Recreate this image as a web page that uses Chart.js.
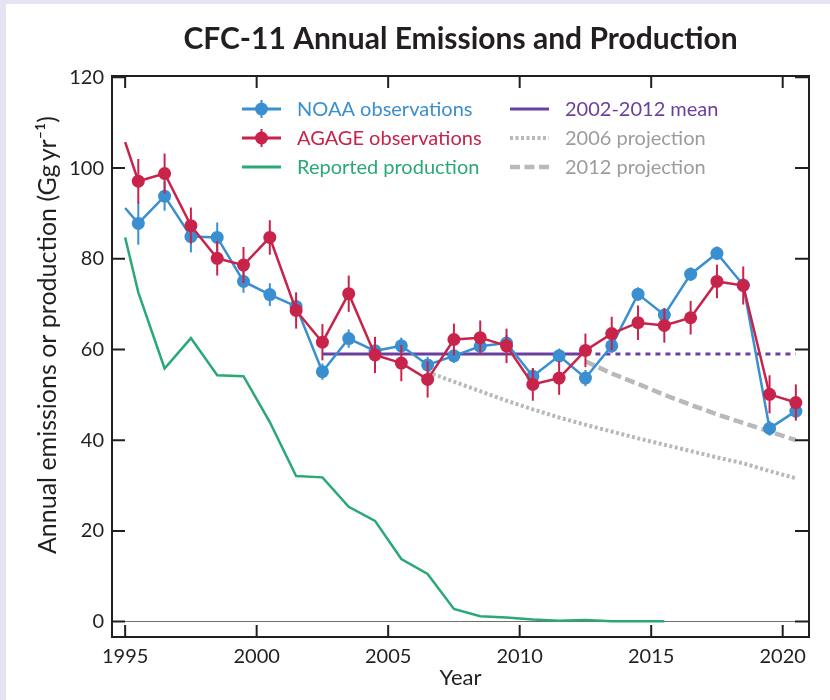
<!DOCTYPE html>
<html><head><meta charset="utf-8">
<script src="https://cdn.jsdelivr.net/npm/chart.js@4"></script>
<style>html,body{margin:0;padding:0;background:#fff;}canvas{display:block;}</style>
</head><body>
<canvas id="c" width="830" height="700"></canvas>
<script>
// ---- data ----
const obsYears = [1995, 1995.5, 1996.5, 1997.5, 1998.5, 1999.5, 2000.5, 2001.5, 2002.5, 2003.5, 2004.5, 2005.5, 2006.5, 2007.5, 2008.5, 2009.5, 2010.5, 2011.5, 2012.5, 2013.5, 2014.5, 2015.5, 2016.5, 2017.5, 2018.5, 2019.5, 2020.5];
const noaa = [91.2, 87.8, 93.8, 84.9, 84.7, 75.0, 72.1, 69.5, 55.1, 62.4, 59.7, 60.8, 56.6, 58.6, 60.7, 61.4, 54.1, 58.6, 53.7, 60.8, 72.2, 67.6, 76.6, 81.2, 74.2, 42.6, 46.4];
const noaaErr = [null, 4.7, 3.2, 3.5, 3.3, 2.5, 2.5, 2.0, 1.8, 2.0, 1.8, 1.8, 1.8, 1.6, 1.8, 1.8, 1.8, 1.6, 1.8, 1.6, 1.5, 1.5, 1.5, 1.5, 1.5, 1.6, 1.7];
const agage = [105.7, 97.1, 98.8, 87.3, 80.1, 78.6, 84.7, 68.6, 61.6, 72.3, 58.8, 57.0, 53.4, 62.2, 62.6, 60.8, 52.3, 53.7, 59.8, 63.5, 65.9, 65.3, 67.0, 75.0, 74.1, 50.1, 48.3];
const agageErr = [null, 4.9, 4.4, 4.0, 3.8, 4.0, 3.8, 4.0, 4.0, 4.0, 4.0, 4.0, 4.0, 3.5, 3.8, 3.8, 3.6, 3.7, 3.7, 3.7, 3.8, 3.8, 3.7, 3.7, 4.2, 4.2, 4.0];
const prodYears = [1995, 1995.5, 1996.5, 1997.5, 1998.5, 1999.5, 2000.5, 2001.5, 2002.5, 2003.5, 2004.5, 2005.5, 2006.5, 2007.5, 2008.5, 2009.5, 2010.5, 2011.5, 2012.5, 2013.5, 2014.5, 2015.5];
const production = [84.7, 72.6, 55.8, 62.5, 54.3, 54.1, 44.0, 32.1, 31.8, 25.3, 22.2, 13.8, 10.5, 2.8, 1.2, 0.9, 0.45, 0.2, 0.35, 0.1, 0.1, 0.1];
const meanYears = [2002.5, 2012.5, 2020.5];
const meanValues = [59.0, 59.0, 59.0];
const proj2006Years = [2006.5, 2007.5, 2008.5, 2009.5, 2010.5, 2011.5, 2012.5, 2013.5, 2014.5, 2015.5, 2016.5, 2017.5, 2018.5, 2019.5, 2020.5];
const proj2006 = [55.0, 52.9, 50.8, 48.7, 46.8, 45.0, 43.4, 41.9, 40.4, 39.0, 37.6, 36.2, 34.9, 33.2, 31.6];
const proj2012Years = [2012.5, 2013.5, 2014.5, 2015.5, 2016.5, 2017.5, 2018.5, 2019.5, 2020.5];
const proj2012 = [57.4, 54.7, 52.4, 50.0, 47.8, 45.7, 43.8, 41.9, 40.0];
const xTicks = [1995, 2000, 2005, 2010, 2015, 2020];
const yTicks = [0, 20, 40, 60, 80, 100, 120];
const titleText = 'CFC-11 Annual Emissions and Production';
const yTitle = 'Annual emissions or production (Gg\u2009yr\u207B\u00B9)';
const xTitle = 'Year';

// ---- styles ----
const C = {blue:'#3a8fd1', red:'#c8234b', green:'#2aa876', purple:'#6b3fa0', gray:'#b9b9b9', grayText:'#9c9c9c', ink:'#231f20'};
const FONT = 'Lato, "Open Sans", sans-serif';
Chart.defaults.font.family = FONT;
Chart.defaults.color = C.ink;

const pts = (xs, ys) => ys.map((v, i) => ({x: xs[i], y: v}));

const bgPlugin = {
  id: 'bg',
  beforeDraw(chart) {
    const ctx = chart.ctx;
    ctx.save();
    ctx.fillStyle = '#e4e4f2';
    ctx.fillRect(0, 0, chart.width, chart.height);
    ctx.fillStyle = '#ffffff';
    ctx.fillRect(6, 4, chart.width - 6, chart.height - 4);
    ctx.restore();
  }
};

const errorBars = {
  id: 'errorBars',
  beforeDatasetDraw(chart, args) {
    const ds = chart.data.datasets[args.index];
    if (!ds.errors) return;
    const y = chart.scales.y, ctx = chart.ctx;
    ctx.save();
    ctx.strokeStyle = ds.borderColor;
    ctx.lineWidth = 2;
    args.meta.data.forEach((el, i) => {
      const e = ds.errors[i];
      if (e == null) return;
      const v = ds.data[i].y;
      ctx.beginPath();
      ctx.moveTo(el.x, y.getPixelForValue(v - e));
      ctx.lineTo(el.x, y.getPixelForValue(v + e));
      ctx.stroke();
    });
    ctx.restore();
  }
};

const frame = {
  id: 'frame',
  afterDraw(chart) {
    const {ctx, chartArea: a, scales: {x, y}} = chart;
    ctx.save();
    ctx.strokeStyle = C.ink;
    ctx.lineWidth = 2;
    ctx.strokeRect(a.left, a.top, a.right - a.left, a.bottom - a.top);
    ctx.beginPath();
    x.ticks.forEach(t => {
      const px = x.getPixelForValue(t.value);
      ctx.moveTo(px, a.bottom); ctx.lineTo(px, a.bottom - 12);
      ctx.moveTo(px, a.top); ctx.lineTo(px, a.top + 12);
    });
    y.ticks.forEach(t => {
      const py = y.getPixelForValue(t.value);
      ctx.moveTo(a.left, py); ctx.lineTo(a.left + 13, py);
      ctx.moveTo(a.right, py); ctx.lineTo(a.right - 14, py);
    });
    ctx.stroke();
    // y axis title
    ctx.translate(48, 335);
    ctx.rotate(-Math.PI / 2);
    ctx.fillStyle = C.ink;
    ctx.font = '25px ' + FONT;
    ctx.textAlign = 'center';
    ctx.textBaseline = 'middle';
    ctx.fillText(yTitle, 0, 0);
    ctx.restore();
  }
};

const legendItems = [
  {text: 'NOAA observations', color: C.blue, textColor: C.blue, kind: 'marker', col: 0, row: 0},
  {text: 'AGAGE observations', color: C.red, textColor: C.red, kind: 'marker', col: 0, row: 1},
  {text: 'Reported production', color: C.green, textColor: C.green, kind: 'line', col: 0, row: 2},
  {text: '2002-2012 mean', color: C.purple, textColor: C.purple, kind: 'line', col: 1, row: 0},
  {text: '2006 projection', color: C.gray, textColor: C.grayText, kind: 'dotted', col: 1, row: 1},
  {text: '2012 projection', color: C.gray, textColor: C.grayText, kind: 'dashed', col: 1, row: 2}
];
const customLegend = {
  id: 'customLegend',
  afterDraw(chart) {
    const ctx = chart.ctx;
    const colX = [242, 510], rowY = [109, 138, 167];
    ctx.save();
    legendItems.forEach(it => {
      const x0 = colX[it.col], y0 = rowY[it.row], x1 = x0 + 39;
      ctx.strokeStyle = it.color;
      ctx.setLineDash([]);
      ctx.lineWidth = 3;
      if (it.kind === 'dotted') { ctx.lineWidth = 4; ctx.setLineDash([3, 2.5]); }
      if (it.kind === 'dashed') { ctx.lineWidth = 4.5; ctx.setLineDash([10, 4.5]); }
      ctx.beginPath(); ctx.moveTo(x0, y0); ctx.lineTo(x1, y0); ctx.stroke();
      ctx.setLineDash([]);
      if (it.kind === 'marker') {
        const cx = (x0 + x1) / 2;
        ctx.lineWidth = 2;
        ctx.beginPath(); ctx.moveTo(cx, y0 - 9); ctx.lineTo(cx, y0 + 9); ctx.stroke();
        ctx.fillStyle = it.color;
        ctx.beginPath(); ctx.arc(cx, y0, 6.5, 0, Math.PI * 2); ctx.fill();
      }
      ctx.fillStyle = it.textColor;
      ctx.font = '20px ' + FONT;
      ctx.textAlign = 'left';
      ctx.textBaseline = 'middle';
      ctx.fillText(it.text, x1 + 16, y0 + 1);
    });
    ctx.restore();
  }
};

const markerRadius = ctx => (ctx.dataIndex === 0 ? 0 : 6.5);

new Chart(document.getElementById('c'), {
  type: 'line',
  data: {
    datasets: [
      {label: 'AGAGE observations', data: pts(obsYears, agage), errors: agageErr, order: 0,
       borderColor: C.red, backgroundColor: C.red, borderWidth: 2.5,
       pointRadius: markerRadius, pointBorderWidth: 0, pointBackgroundColor: C.red},
      {label: 'NOAA observations', data: pts(obsYears, noaa), errors: noaaErr, order: 1,
       borderColor: C.blue, backgroundColor: C.blue, borderWidth: 2.5,
       pointRadius: markerRadius, pointBorderWidth: 0, pointBackgroundColor: C.blue},
      {label: '2002-2012 mean', data: pts(meanYears, meanValues), order: 2,
       borderColor: C.purple, borderWidth: 3, pointRadius: 0,
       segment: {borderDash: c => (c.p0DataIndex >= 1 ? [5, 5] : undefined)}},
      {label: '2006 projection', data: pts(proj2006Years, proj2006), order: 3,
       borderColor: C.gray, borderWidth: 4, borderDash: [3, 2.5], pointRadius: 0},
      {label: '2012 projection', data: pts(proj2012Years, proj2012), order: 3,
       borderColor: C.gray, borderWidth: 4.5, borderDash: [10, 4.5], pointRadius: 0},
      {label: 'Reported production', data: pts(prodYears, production), order: 4,
       borderColor: C.green, borderWidth: 2.5, pointRadius: 0}
    ]
  },
  options: {
    responsive: false,
    devicePixelRatio: 1,
    animation: false,
    events: [],
    layout: {padding: {top: 0, right: 21, bottom: 0, left: 0}},
    plugins: {
      legend: {display: false},
      tooltip: {enabled: false},
      title: {display: true, text: titleText, fullSize: false, color: C.ink,
              font: {family: FONT, size: 30, weight: 'bold'}, padding: {top: 21, bottom: 19}}
    },
    scales: {
      x: {
        type: 'linear', min: 1994.5, max: 2021,
        afterBuildTicks: s => { s.ticks = xTicks.map(v => ({value: v})); },
        afterFit: s => { s.height = 63; },
        ticks: {font: {size: 20}, color: C.ink, padding: 8, callback: v => String(v)},
        grid: {drawOnChartArea: false, drawTicks: false},
        border: {display: false},
        title: {display: true, text: xTitle, color: C.ink, font: {size: 22}, padding: {top: 0, bottom: 9}}
      },
      y: {
        type: 'linear', min: -3.4, max: 120.3,
        afterBuildTicks: s => { s.ticks = yTicks.map(v => ({value: v})); },
        afterFit: s => { s.width = 112; },
        ticks: {font: {size: 20}, color: C.ink, padding: 8},
        grid: {drawTicks: false, lineWidth: 1,
               color: c => (c.tick && c.tick.value === 0 ? '#6d6d6d' : 'rgba(0,0,0,0)')},
        border: {display: false}
      }
    }
  },
  plugins: [bgPlugin, errorBars, frame, customLegend]
});
</script>
</body></html>
